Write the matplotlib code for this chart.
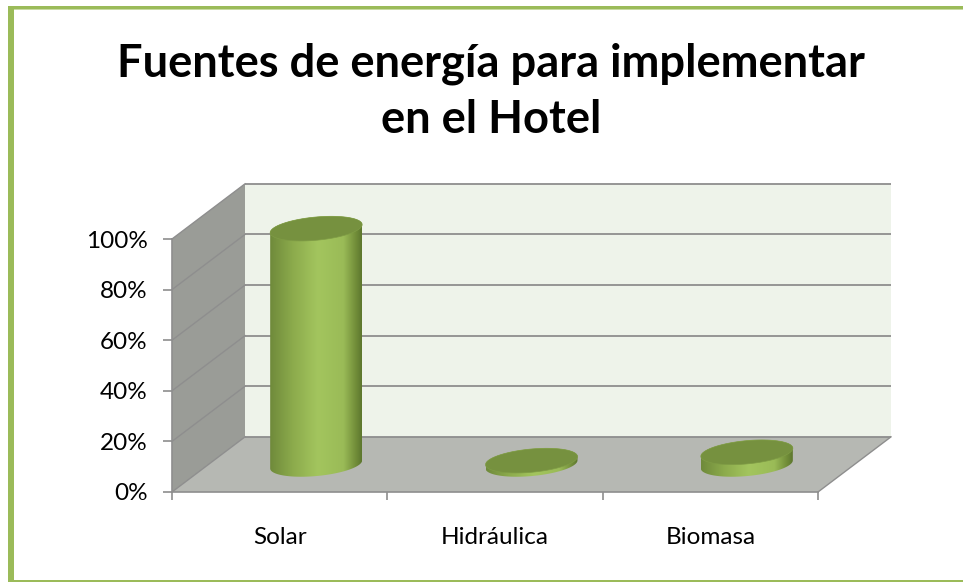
"""Fuentes de energia: fake 3D cylinder chart drawn on a plain 2D axes."""
import matplotlib
matplotlib.use("Agg")

import matplotlib.pyplot as plt
import numpy as np
from matplotlib.colors import LinearSegmentedColormap
from matplotlib.patches import Polygon, Rectangle

categories = ["Solar", "Hidráulica", "Biomasa"]
values = [93.2, 1.5, 4.8]
y_ticks = [0, 20, 40, 60, 80, 100]
y_tick_labels = ["0%", "20%", "40%", "60%", "80%", "100%"]
title = "Fuentes de energía para implementar\nen el Hotel"

# Depth of the floor, in axis units (1 category, 1 percent)
DEPTH_X = 0.339
DEPTH_Y = 21.8
BAR_HALF = 0.2136
ELL_DEPTH = 4.6
ELL_TILT = 1.6

GRID = "#8e8e8e"
FRAME = "#9bbb59"
cyl_cmap = LinearSegmentedColormap.from_list(
    "cyl",
    [(0.0, "#6f8a3b"), (0.25, "#8cab4c"), (0.52, "#a3c55e"),
     (0.8, "#9abb57"), (0.93, "#738f3a"), (1.0, "#5d772e")],
)

plt.rcParams["font.family"] = ["Lato", "DejaVu Sans"]

W, H = 963, 582
fig = plt.figure(figsize=(W / 100, H / 100), dpi=100, facecolor="white")
ax = fig.add_axes([172 / W, (H - 492) / H, 646 / W, 253 / H])
ax.set_facecolor("none")


def proj(x, y, z=0.0):
    # z = 0 is the front plane, z = 1 the back wall
    return x + z * DEPTH_X, y + z * DEPTH_Y


def face(points, color, zorder=1):
    ax.add_patch(Polygon([proj(*p) for p in points], closed=True, facecolor=color,
                         edgecolor="none", clip_on=False, zorder=zorder))


def ellipse(cx, cy, t):
    return (cx + BAR_HALF * np.cos(t),
            cy + ELL_TILT * np.cos(t) + ELL_DEPTH * np.sin(t))


def draw_cylinder(i, value):
    cx, base = proj(i + 0.5, 0, 0.5)
    top = base + value
    t_low = np.linspace(np.pi, 2 * np.pi, 60)
    t_up = np.linspace(0, np.pi, 60)
    xb, yb = ellipse(cx, base, t_low)
    xt, yt = ellipse(cx, top, t_up)
    outline = np.column_stack([np.r_[xb, xt], np.r_[yb, yt]])
    body = Polygon(outline, closed=True, facecolor="none", edgecolor="none",
                   clip_on=False, zorder=4)
    ax.add_patch(body)
    grad = np.linspace(0, 1, 256).reshape(1, -1)
    img = ax.imshow(grad, cmap=cyl_cmap, aspect="auto", zorder=4, interpolation="bilinear",
                    extent=(cx - BAR_HALF, cx + BAR_HALF, base - 10, top + 10))
    # the top of the tall bar pokes out of the axes box
    img.set_clip_box(fig.bbox)
    img.set_clip_path(body)
    tt = np.linspace(0, 2 * np.pi, 120)
    xe, ye = ellipse(cx, top, tt)
    ax.add_patch(Polygon(np.column_stack([xe, ye]), closed=True, facecolor="#76913f",
                         edgecolor="#7f9c45", linewidth=0.5, clip_on=False, zorder=5))


# walls and floor
face([(0, 0, 1), (3, 0, 1), (3, 100, 1), (0, 100, 1)], "#eef3ea")
face([(0, 0, 0), (0, 100, 0), (0, 100, 1), (0, 0, 1)], "#9a9c97")
face([(0, 0, 0), (3, 0, 0), (3, 0, 1), (0, 0, 1)], "#b6b8b3")

# gridlines on back wall and side wall
for v in y_ticks:
    xs, ys = zip(proj(0, v, 1), proj(3, v, 1))
    ax.plot(xs, ys, color=GRID, lw=1.3, clip_on=False, zorder=2, solid_capstyle="butt")
    xs, ys = zip(proj(0, v, 0), proj(0, v, 1))
    ax.plot(xs, ys, color=GRID, lw=1.0, clip_on=False, zorder=2)
xs, ys = zip(proj(3, 0, 0), proj(3, 0, 1))
ax.plot(xs, ys, color=GRID, lw=1.0, clip_on=False, zorder=2)

for i, v in enumerate(values):
    draw_cylinder(i, v)

ax.set_xlim(0, 3)
ax.set_ylim(0, 100)

for side in ("top", "right"):
    ax.spines[side].set_visible(False)
for side in ("left", "bottom"):
    ax.spines[side].set_color(GRID)
    ax.spines[side].set_linewidth(1.2)
    ax.spines[side].set_zorder(3)

ax.set_yticks(y_ticks, y_tick_labels)
ax.set_xticks([0.5, 1.5, 2.5], categories)
ax.set_xticks([0, 1, 2, 3], minor=True)
ax.tick_params(axis="y", length=6.5, width=1.2, color=GRID, labelsize=17.5, pad=11, labelcolor="black")
ax.tick_params(axis="x", which="major", length=0, labelsize=17.5, pad=25.5, labelcolor="black")
ax.tick_params(axis="x", which="minor", length=6, width=1.2, color=GRID)

fig.text(491 / W, 1 - 91.5 / H, title, ha="center", va="center", fontsize=32.6,
         fontweight="bold", color="black", linespacing=1.4)


def frame_bar(x0, y0, x1, y1, color):
    # pixel box, y counted from the top of the picture
    fig.add_artist(Rectangle((x0 / W, 1 - y1 / H), (x1 - x0) / W, (y1 - y0) / H,
                             transform=fig.transFigure, facecolor=color, edgecolor="none"))


# green frame: top, left and bottom only, the right side is cut off
frame_bar(8, 9, W, 10, "#c9dba3")
frame_bar(8, 6, W, 9, FRAME)
frame_bar(8, 6, 14, 582, FRAME)
frame_bar(8, 580, W, 582, FRAME)

fig.savefig("out.png", dpi=100)
